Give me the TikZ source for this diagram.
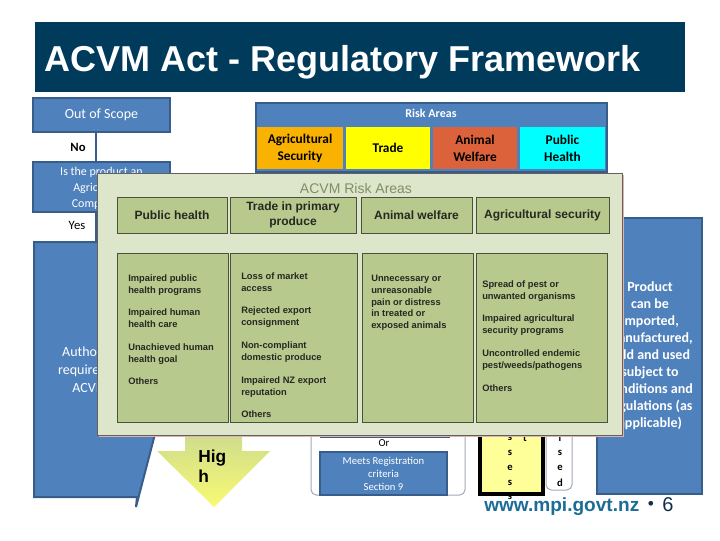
\documentclass[tikz,border=0pt]{standalone}
\usepackage{fontspec}
\setmainfont{Liberation Sans}
\newfontfamily\calib{Carlito}
\usetikzlibrary{fit}
\definecolor{navy}{RGB}{1,59,92}
\definecolor{bfill}{RGB}{79,129,189}
\definecolor{bdark}{RGB}{56,93,138}
\definecolor{agri}{RGB}{250,178,0}
\definecolor{trade}{RGB}{255,255,0}
\definecolor{animal}{RGB}{219,98,58}
\definecolor{pub}{RGB}{0,255,255}
\definecolor{panel}{RGB}{221,229,203}
\definecolor{panelbd}{RGB}{100,95,90}
\definecolor{pshadow}{RGB}{222,178,178}
\definecolor{gbox}{RGB}{183,201,141}
\definecolor{gboxbd}{RGB}{72,82,60}
\definecolor{gtitle}{RGB}{128,142,100}
\definecolor{gtext}{RGB}{38,40,34}
\definecolor{arrtop}{RGB}{208,220,140}
\definecolor{arrbot}{RGB}{248,250,115}
\definecolor{pale}{RGB}{255,255,153}
\definecolor{framec}{RGB}{160,170,185}
\definecolor{urlblue}{RGB}{28,108,152}
\definecolor{darknum}{RGB}{20,45,75}
\begin{document}
\begin{tikzpicture}[x=0.75pt,y=-0.75pt,
 bluebox/.style={fill=bfill,draw=bdark,line width=1.5pt,inner sep=0pt},
 wtxt/.style={text=white,inner sep=0pt,align=center,font=\calib\fontsize{9}{12}\selectfont},
 riskbox/.style={draw=none,inner sep=0pt},
 risktxt/.style={inner sep=0pt,align=center,font=\calib\bfseries\fontsize{10}{12.75}\selectfont},
 ghead/.style={fill=gbox,draw=gboxbd,line width=0.75pt,inner sep=0pt},
 gheadtxt/.style={inner sep=0pt,text=gtext,align=center,font=\bfseries\fontsize{9}{11.25}\selectfont},
 gcol/.style={fill=gbox,draw=gboxbd,line width=0.75pt,inner sep=0pt},
 gtxt/.style={anchor=north west,inner sep=0pt,align=left,text=gtext},
 conn/.style={draw=bdark,line width=1.5pt},
 wframe/.style={draw=framec,line width=0.75pt,rounded corners=4pt,fill=white},
 vlet/.style={font=\calib\bfseries\fontsize{8}{9}\selectfont,inner sep=0pt}
]
\useasboundingbox (0,0) rectangle (720,540);
\fill[white] (0,0) rectangle (720,540);

% title
\node[fill=navy, fit={(35,22) (685,92)}, inner sep=0pt] (titlebar) {};
\node[anchor=base west, text=white, font=\bfseries\fontsize{27}{30}\selectfont, inner sep=0pt] (title) at (44,71) {ACVM Act - Regulatory Framework};

% left column
\node[bluebox, fit={(33,98) (170,132)}] (oos) {};
\node[wtxt, font=\calib\fontsize{10.5}{12}\selectfont] (oostxt) at (oos.center) {Out of Scope};
\node[bluebox, fit={(33,162) (170,212)}] (isprod) {};
\node[wtxt] (isprodtxt) at ([yshift=-0.75pt]isprod.center) {Is the product an\\Agricultural\\Compound?};
\draw[conn] ([xshift=-4pt]oos.south) -- ([xshift=-4pt]isprod.north);
\coordinate (bigtop) at (96,242);
\draw[conn] ([xshift=-4pt]isprod.south) -- (bigtop);
\node[font=\calib\bfseries\fontsize{9.5}{11}\selectfont, inner sep=0pt] (no) at (78,147) {No};
\node[font=\calib\fontsize{9.5}{11}\selectfont, inner sep=0pt] (yes) at (77,225) {Yes};
\filldraw[fill=bfill, draw=bdark, line width=1.5pt] (34,242) -- (205,242) -- (136,507) -- (137,497) -- (34,497) -- cycle;
\begin{scope}
\clip (0,0) rectangle (97,540);
\node[wtxt, font=\calib\fontsize{10.5}{13.5}\selectfont] (auth) at (101,370) {Authorisation\\required under\\ACVM Act};
\end{scope}

% risk areas
\node[fill=bfill, draw=bdark, line width=1pt, fit={(256,103) (607,172)}, inner sep=0pt] (riskframe) {};
\node[text=white, font=\calib\bfseries\fontsize{9}{11}\selectfont, inner sep=0pt] (riskhdr) at (431,113) {Risk Areas};
\node[riskbox, fill=agri, fit={(257,127) (343,169)}] (ragri) {};
\node[riskbox, fill=trade, fit={(346,127) (430,169)}] (rtrade) {};
\node[riskbox, fill=animal, fit={(433,127) (517,169)}] (ranimal) {};
\node[riskbox, fill=pub, fit={(520,127) (605,169)}] (rpub) {};
\node[risktxt] (ragritxt) at (ragri.center) {Agricultural\\Security};
\node[risktxt] (rtradetxt) at (rtrade.center) {Trade};
\node[risktxt] (ranimaltxt) at (ranimal.center) {Animal\\Welfare};
\node[risktxt] (rpubtxt) at (rpub.center) {Public\\Health};

% right blue box
\node[bluebox, fit={(597,218) (702,494)}] (prodbox) {};
\begin{scope}
\clip (622,0) rectangle (720,540);
\node[wtxt, font=\calib\bfseries\fontsize{10.5}{12.8}\selectfont] (prodtxt) at (650,355.5) {Product\\can be\\imported,\\manufactured,\\sold and used\\subject to\\conditions and\\regulations (as\\applicable)};
\end{scope}

% bottom middle
\draw[wframe] (311,380) rectangle (465,495);
\node[bluebox, fit={(321,390) (449,437)}] (hidbox) {};
\node[font=\calib\fontsize{8}{9}\selectfont, inner sep=0pt] (or) at (384,443) {Or};
\node[bluebox, fit={(320,452) (447,495)}] (meets) {};
\node[wtxt, font=\calib\fontsize{8}{9.75}\selectfont] (meetstxt) at (meets.center) {Meets Registration\\criteria\\Section 9};

% yellow box and letters
\draw[fill=pale, draw=black, line width=2.5pt] (480,400) rectangle (543,494);
\draw[wframe] (546,400) rectangle (572,490);
\node[vlet] (l1) at (510,438) {s};
\node[vlet] (l2) at (510,453) {s};
\node[vlet] (l3) at (510,468) {e};
\node[vlet] (l4) at (510,483) {s};
\node[vlet] (l5) at (510,497) {s};
\node[vlet] (l6) at (525,438) {t};
\node[vlet] (m1) at (560,438) {i};
\node[vlet] (m2) at (560,453) {s};
\node[vlet] (m3) at (560,468) {e};
\node[vlet] (m4) at (560,483) {d};

% High arrow
\shade[top color=arrtop, bottom color=arrbot] (185,435) -- (242,435) -- (242,451) -- (270,451) -- (214,507) -- (157,451) -- (185,451) -- cycle;
\node[font=\bfseries\fontsize{13}{15}\selectfont, align=left, anchor=north west, inner sep=0pt] (high) at (198,450) {Hig\\h};

% overlay panel
\fill[pshadow] (99,175) rectangle (624,437);
\node[fill=panel, draw=panelbd, line width=0.75pt, fit={(97,173) (622,435)}, inner sep=0pt] (panel) {};
\node[text=gtitle, font=\fontsize{10.5}{12}\selectfont, inner sep=0pt] (ptitle) at (356,188) {ACVM Risk Areas};
\node[ghead, fit={(117,197) (227,233)}] (hph) {};
\node[ghead, fit={(230,197) (356,233)}] (htr) {};
\node[ghead, fit={(361,197) (472,233)}] (haw) {};
\node[ghead, fit={(476,197) (609,233)}] (has) {};
\node[gheadtxt] (hphtxt) at (hph.center) {Public health};
\node[gheadtxt] (htrtxt) at (htr.center) {Trade in primary\\produce};
\node[gheadtxt] (hawtxt) at (haw.center) {Animal welfare};
\node[gheadtxt] (hastxt) at (has.center) {Agricultural security};
\node[gcol, fit={(117,253) (228,422)}] (c1) {};
\node[gcol, fit={(230,253) (357,422)}] (c2) {};
\node[gcol, fit={(362,253) (473,422)}] (c3) {};
\node[gcol, fit={(476,253) (607,422)}] (c4) {};
\node[gtxt, font=\bfseries\fontsize{7}{9.3}\selectfont] (t1) at (128,274) {Impaired public\\health programs\\[7.3pt]Impaired human\\health care\\[7.3pt]Unachieved human\\health goal\\[7.3pt]Others};
\node[gtxt, font=\bfseries\fontsize{7}{9}\selectfont] (t2) at (241,272) {Loss of market\\access\\[8pt]Rejected export\\consignment\\[8pt]Non-compliant\\domestic produce\\[8pt]Impaired NZ export\\reputation\\[8pt]Others};
\node[gtxt, font=\bfseries\fontsize{7}{8.8}\selectfont] (t3) at (371,275) {Unnecessary or\\unreasonable\\pain or distress\\in treated or\\exposed animals};
\node[gtxt, font=\bfseries\fontsize{7}{9}\selectfont] (t4) at (482,280) {Spread of pest or\\unwanted organisms\\[8pt]Impaired agricultural\\security programs\\[8pt]Uncontrolled endemic\\pest/weeds/pathogens\\[8pt]Others};

% footer
\node[anchor=base west, inner sep=0pt, text=urlblue, font=\bfseries\fontsize{14.3}{16}\selectfont] (url) at (484,511) {www.mpi.govt.nz};
\node[inner sep=0pt, text=darknum, font=\fontsize{13}{14}\selectfont] (dot) at (651,505) {\textbullet};
\node[anchor=base west, inner sep=0pt, text=darknum, font=\fontsize{15}{18}\selectfont] (pg) at (662,511) {6};
\end{tikzpicture}
\end{document}
